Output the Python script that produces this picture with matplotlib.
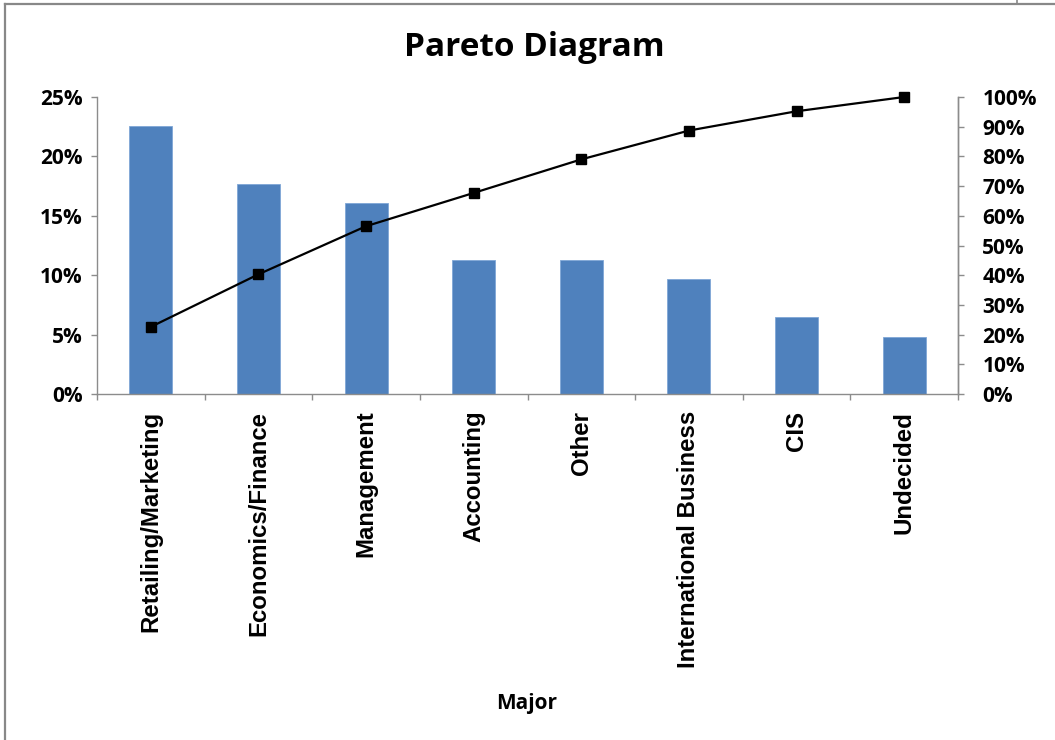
import matplotlib
matplotlib.use("Agg")
import matplotlib.pyplot as plt
from matplotlib.ticker import FuncFormatter
from matplotlib.lines import Line2D
import numpy as np

categories = ["Retailing/Marketing", "Economics/Finance", "Management", "Accounting",
              "Other", "International Business", "CIS", "Undecided"]
share_pct = [22.6, 17.7, 16.1, 11.3, 11.3, 9.7, 6.5, 4.8]
cumulative_pct = [22.6, 40.3, 56.5, 67.7, 79.0, 88.7, 95.2, 100.0]
left_ticks = [0, 5, 10, 15, 20, 25]
right_ticks = [0, 10, 20, 30, 40, 50, 60, 70, 80, 90, 100]

TITLE = "Pareto Diagram"
XLABEL = "Major"

W, H = 1055, 740
fig = plt.figure(figsize=(W / 100, H / 100), dpi=100)
fig.patch.set_facecolor("white")

ax = fig.add_axes([97 / W, 1 - 394 / H, (958 - 97) / W, (394 - 97) / H])
x = np.arange(len(categories))
ax.bar(x, share_pct, width=0.4, color="#4F81BD", edgecolor="#7FA7D6", linewidth=0.6, zorder=2)
ax.set_xlim(-0.5, len(categories) - 0.5)
ax.set_ylim(0, 25)
ax.set_yticks(left_ticks)
ax.yaxis.set_major_formatter(FuncFormatter(lambda v, p: f"{v:.0f}%"))

grey = "#8C8C8C"
ax.spines["top"].set_visible(False)
for s in ["left", "bottom", "right"]:
    ax.spines[s].set_color(grey)
    ax.spines[s].set_linewidth(1.0)

ax.set_xticks(np.arange(len(categories) + 1) - 0.5, minor=False)
ax.set_xticklabels([])
ax.tick_params(axis="x", which="major", length=4.5, color=grey, width=1)
ax.set_xticks(x, minor=True)
ax.set_xticklabels(categories, minor=True, rotation=90,
                   fontfamily="Liberation Sans", fontweight="bold", fontsize=17.3)
ax.tick_params(axis="x", which="minor", length=0, pad=12)

ax.tick_params(axis="y", length=4.5, color=grey, width=1, pad=6)
for lab in ax.get_yticklabels():
    lab.set_fontfamily("Open Sans")
    lab.set_fontweight("bold")
    lab.set_fontsize(15)

ax2 = ax.twinx()
ax2.plot(x, cumulative_pct, color="black", linewidth=1.6, marker="s",
         markersize=7, markerfacecolor="black", markeredgecolor="black",
         zorder=3, clip_on=False)
ax2.set_ylim(0, 100)
ax2.set_yticks(right_ticks)
ax2.yaxis.set_major_formatter(FuncFormatter(lambda v, p: f"{v:.0f}%"))
ax2.tick_params(axis="y", length=4.5, color=grey, width=1, pad=13)
for lab in ax2.get_yticklabels():
    lab.set_fontfamily("Open Sans")
    lab.set_fontweight("bold")
    lab.set_fontsize(15)
for s in ["top", "left", "bottom"]:
    ax2.spines[s].set_visible(False)
ax2.spines["right"].set_color(grey)
ax2.spines["right"].set_linewidth(1.0)

fig.text(534 / W, 1 - 47 / H, TITLE, ha="center", va="center",
         fontfamily="Open Sans", fontweight="bold", fontsize=24)
fig.text(527 / W, 1 - 704 / H, XLABEL, ha="center", va="center",
         fontfamily="Open Sans", fontweight="bold", fontsize=15)

# chart frame
frame_c = "#888888"
fig.add_artist(Line2D([5 / W, 5 / W], [0, 1 - 4 / H], transform=fig.transFigure, color=frame_c, linewidth=1.6))
fig.add_artist(Line2D([5 / W, 1], [1 - 4 / H, 1 - 4 / H], transform=fig.transFigure, color=frame_c, linewidth=1.6))
fig.add_artist(Line2D([1017 / W, 1017 / W], [1 - 4 / H, 1], transform=fig.transFigure, color=frame_c, linewidth=1.2))

fig.savefig("out.png", dpi=100, facecolor="white")
